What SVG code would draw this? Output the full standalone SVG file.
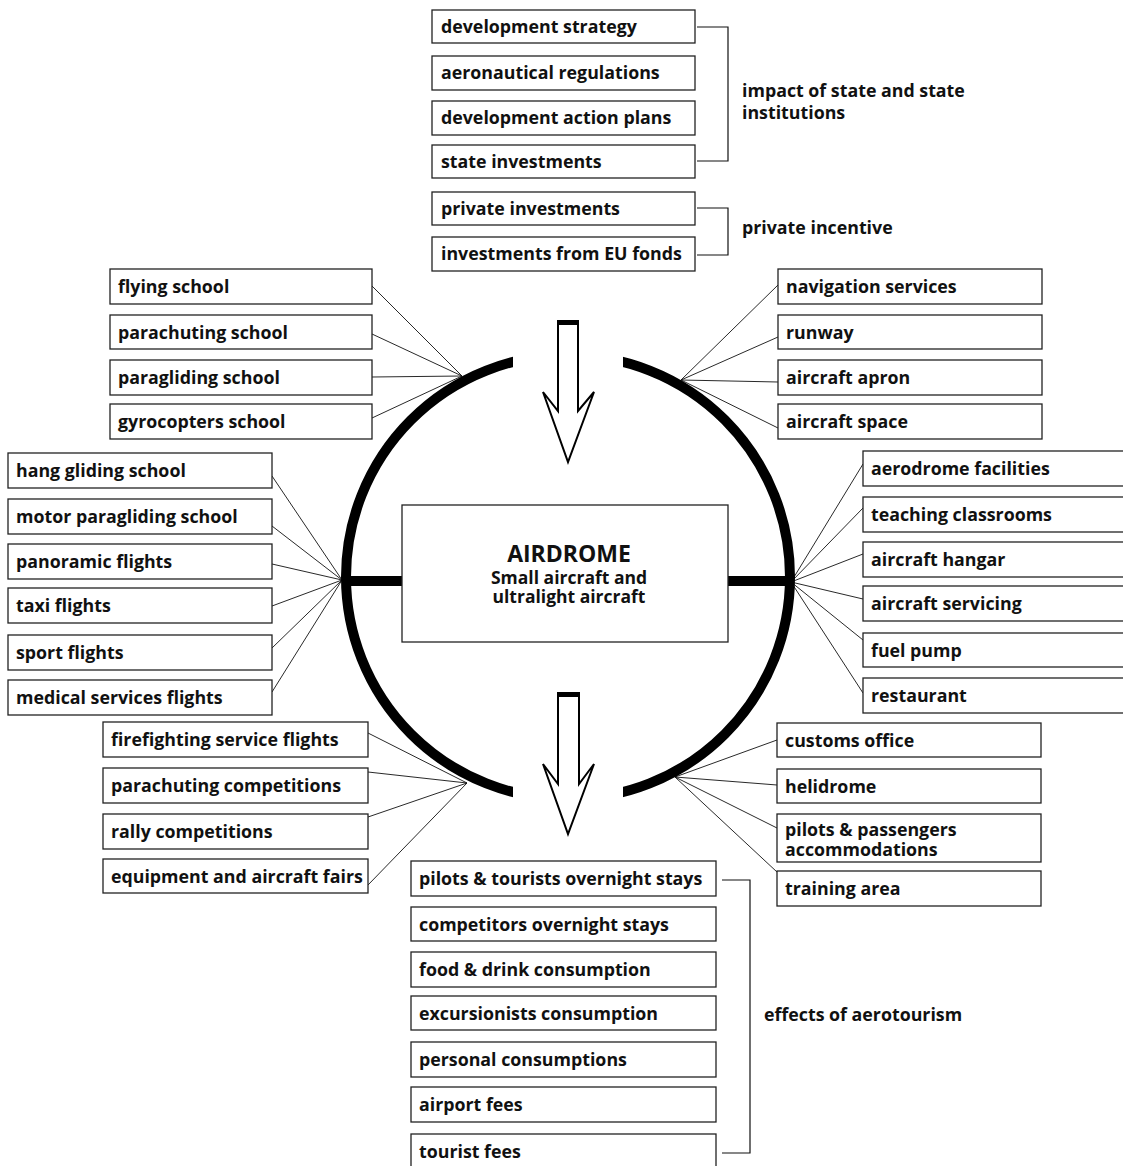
<svg xmlns="http://www.w3.org/2000/svg" width="1123" height="1166" viewBox="0 0 1123 1166">
<style>
.b{fill:#fff;stroke:#222;stroke-width:1.3}
.t{font-family:"Open Sans","Noto Sans","Liberation Sans",sans-serif;font-weight:700;font-size:17.8px;fill:#111}
.c{fill:none;stroke:#111;stroke-width:0.9}
.k{fill:none;stroke:#111;stroke-width:1.2}
.ar{fill:#fff;stroke:#000;stroke-width:2;stroke-linejoin:miter}
</style>
<defs>
<clipPath id="sides"><rect x="0" y="0" width="513" height="1166"/><rect x="623" y="0" width="500" height="1166"/></clipPath>
</defs>
<rect width="1123" height="1166" fill="#fff"/>

<g id="connectors">
<polyline class="k" points="697,27 728,27 728,161 697,161"/>
<polyline class="k" points="697,208 728,208 728,255 697,255"/>
<polyline class="k" points="722,880 750,880 750,1153 722,1153"/>
<line class="c" x1="372" y1="286" x2="462" y2="376"/>
<line class="c" x1="372" y1="334" x2="462" y2="376"/>
<line class="c" x1="372" y1="377" x2="462" y2="376"/>
<line class="c" x1="372" y1="418" x2="462" y2="376"/>
<line class="c" x1="272" y1="476" x2="342" y2="580"/>
<line class="c" x1="272" y1="526" x2="342" y2="580"/>
<line class="c" x1="272" y1="564" x2="342" y2="580"/>
<line class="c" x1="272" y1="606" x2="342" y2="580"/>
<line class="c" x1="272" y1="648" x2="342" y2="580"/>
<line class="c" x1="272" y1="692" x2="342" y2="580"/>
<line class="c" x1="778" y1="285" x2="681" y2="380"/>
<line class="c" x1="778" y1="337" x2="681" y2="380"/>
<line class="c" x1="778" y1="382" x2="681" y2="380"/>
<line class="c" x1="778" y1="428" x2="681" y2="380"/>
<line class="c" x1="863" y1="464" x2="791" y2="582"/>
<line class="c" x1="863" y1="508" x2="791" y2="582"/>
<line class="c" x1="863" y1="554" x2="791" y2="582"/>
<line class="c" x1="863" y1="599" x2="791" y2="582"/>
<line class="c" x1="863" y1="640" x2="791" y2="582"/>
<line class="c" x1="863" y1="693" x2="791" y2="582"/>
<line class="c" x1="368" y1="733" x2="467" y2="783"/>
<line class="c" x1="368" y1="772" x2="467" y2="783"/>
<line class="c" x1="368" y1="817" x2="467" y2="783"/>
<line class="c" x1="368" y1="885" x2="467" y2="783"/>
<line class="c" x1="777" y1="740" x2="675" y2="777"/>
<line class="c" x1="777" y1="785" x2="675" y2="777"/>
<line class="c" x1="777" y1="828" x2="675" y2="777"/>
<line class="c" x1="777" y1="872" x2="675" y2="777"/>
</g>

<g id="ring">
<circle cx="568" cy="577" r="222" fill="none" stroke="#000" stroke-width="10" clip-path="url(#sides)"/>
<line x1="346" y1="581" x2="402" y2="581" stroke="#000" stroke-width="10"/>
<line x1="728" y1="581" x2="790" y2="581" stroke="#000" stroke-width="10"/>
</g>

<g id="arrow-in">
<polygon class="ar" points="558,322 578,322 578,411 594,392 568,462 543,392 558,411"/>
<line x1="557" y1="322.5" x2="579" y2="322.5" stroke="#000" stroke-width="5"/>
</g>
<g id="arrow-out">
<polygon class="ar" points="558,694 579,694 579,784 594,764 568,834 543,764 558,784"/>
<line x1="557" y1="694.5" x2="580" y2="694.5" stroke="#000" stroke-width="5"/>
</g>

<g id="airdrome">
<rect class="b" x="402" y="505" width="326" height="137"/>
<text class="t" x="569" y="562" text-anchor="middle" style="font-size:23px">AIRDROME</text>
<text class="t" x="569" y="584" text-anchor="middle" style="font-size:17.5px">Small aircraft and</text>
<text class="t" x="569" y="603" text-anchor="middle" style="font-size:17.5px">ultralight aircraft</text>
</g>

<g id="top-group">
<g id="n-development-strategy"><rect class="b" x="432" y="10" width="263" height="33"/><text class="t" x="441" y="33">development strategy</text></g>
<g id="n-aeronautical-regulations"><rect class="b" x="432" y="56" width="263" height="34"/><text class="t" x="441" y="79">aeronautical regulations</text></g>
<g id="n-development-action-plans"><rect class="b" x="432" y="101" width="263" height="34"/><text class="t" x="441" y="124">development action plans</text></g>
<g id="n-state-investments"><rect class="b" x="432" y="145" width="263" height="33"/><text class="t" x="441" y="168">state investments</text></g>
<g id="n-private-investments"><rect class="b" x="432" y="192" width="263" height="33"/><text class="t" x="441" y="215">private investments</text></g>
<g id="n-eu-fonds"><rect class="b" x="432" y="237" width="263" height="34"/><text class="t" x="441" y="260">investments from EU fonds</text></g>
<text class="t" x="742" y="97">impact of state and state</text>
<text class="t" x="742" y="119">institutions</text>
<text class="t" x="742" y="234">private incentive</text>
</g>

<g id="left-upper">
<g id="n-flying-school"><rect class="b" x="110" y="269" width="262" height="35"/><text class="t" x="118" y="293">flying school</text></g>
<g id="n-parachuting-school"><rect class="b" x="110" y="315" width="262" height="34"/><text class="t" x="118" y="339">parachuting school</text></g>
<g id="n-paragliding-school"><rect class="b" x="110" y="360" width="262" height="35"/><text class="t" x="118" y="384">paragliding school</text></g>
<g id="n-gyrocopters-school"><rect class="b" x="110" y="404" width="262" height="35"/><text class="t" x="118" y="428">gyrocopters school</text></g>
</g>

<g id="left-middle">
<g id="n-hang-gliding"><rect class="b" x="8" y="453" width="264" height="35"/><text class="t" x="16" y="477">hang gliding school</text></g>
<g id="n-motor-paragliding"><rect class="b" x="8" y="499" width="264" height="35"/><text class="t" x="16" y="523">motor paragliding school</text></g>
<g id="n-panoramic"><rect class="b" x="8" y="544" width="264" height="35"/><text class="t" x="16" y="568">panoramic flights</text></g>
<g id="n-taxi"><rect class="b" x="8" y="588" width="264" height="35"/><text class="t" x="16" y="612">taxi flights</text></g>
<g id="n-sport"><rect class="b" x="8" y="635" width="264" height="35"/><text class="t" x="16" y="659">sport flights</text></g>
<g id="n-medical"><rect class="b" x="8" y="680" width="264" height="35"/><text class="t" x="16" y="704">medical services flights</text></g>
</g>

<g id="right-upper">
<g id="n-navigation"><rect class="b" x="778" y="269" width="264" height="35"/><text class="t" x="786" y="293">navigation services</text></g>
<g id="n-runway"><rect class="b" x="778" y="315" width="264" height="34"/><text class="t" x="786" y="339">runway</text></g>
<g id="n-apron"><rect class="b" x="778" y="360" width="264" height="35"/><text class="t" x="786" y="384">aircraft apron</text></g>
<g id="n-space"><rect class="b" x="778" y="404" width="264" height="35"/><text class="t" x="786" y="428">aircraft space</text></g>
</g>

<g id="right-middle">
<g id="n-aerodrome-facilities"><rect class="b" x="863" y="451" width="270" height="35"/><text class="t" x="871" y="475">aerodrome facilities</text></g>
<g id="n-teaching"><rect class="b" x="863" y="497" width="270" height="35"/><text class="t" x="871" y="521">teaching classrooms</text></g>
<g id="n-hangar"><rect class="b" x="863" y="542" width="270" height="35"/><text class="t" x="871" y="566">aircraft hangar</text></g>
<g id="n-servicing"><rect class="b" x="863" y="586" width="270" height="35"/><text class="t" x="871" y="610">aircraft servicing</text></g>
<g id="n-fuel"><rect class="b" x="863" y="633" width="270" height="34"/><text class="t" x="871" y="657">fuel pump</text></g>
<g id="n-restaurant"><rect class="b" x="863" y="678" width="270" height="35"/><text class="t" x="871" y="702">restaurant</text></g>
</g>

<g id="left-lower">
<g id="n-firefighting"><rect class="b" x="103" y="722" width="265" height="35"/><text class="t" x="111" y="746">firefighting service flights</text></g>
<g id="n-parachuting-comp"><rect class="b" x="103" y="768" width="265" height="35"/><text class="t" x="111" y="792">parachuting competitions</text></g>
<g id="n-rally"><rect class="b" x="103" y="814" width="265" height="35"/><text class="t" x="111" y="838">rally competitions</text></g>
<g id="n-fairs"><rect class="b" x="103" y="859" width="265" height="34"/><text class="t" x="111" y="883">equipment and aircraft fairs</text></g>
</g>

<g id="right-lower">
<g id="n-customs"><rect class="b" x="777" y="723" width="264" height="34"/><text class="t" x="785" y="747">customs office</text></g>
<g id="n-helidrome"><rect class="b" x="777" y="769" width="264" height="34"/><text class="t" x="785" y="793">helidrome</text></g>
<g id="n-accommodations"><rect class="b" x="777" y="814" width="264" height="48"/><text class="t" x="785" y="836">pilots &amp; passengers</text><text class="t" x="785" y="856">accommodations</text></g>
<g id="n-training"><rect class="b" x="777" y="871" width="264" height="35"/><text class="t" x="785" y="895">training area</text></g>
</g>

<g id="bottom-group">
<g id="n-pilots-tourists"><rect class="b" x="411" y="861" width="305" height="35"/><text class="t" x="419" y="885">pilots &amp; tourists overnight stays</text></g>
<g id="n-competitors"><rect class="b" x="411" y="907" width="305" height="34"/><text class="t" x="419" y="931">competitors overnight stays</text></g>
<g id="n-food"><rect class="b" x="411" y="952" width="305" height="35"/><text class="t" x="419" y="976">food &amp; drink consumption</text></g>
<g id="n-excursionists"><rect class="b" x="411" y="996" width="305" height="34"/><text class="t" x="419" y="1020">excursionists consumption</text></g>
<g id="n-personal"><rect class="b" x="411" y="1042" width="305" height="35"/><text class="t" x="419" y="1066">personal consumptions</text></g>
<g id="n-airport-fees"><rect class="b" x="411" y="1087" width="305" height="35"/><text class="t" x="419" y="1111">airport fees</text></g>
<g id="n-tourist-fees"><rect class="b" x="411" y="1134" width="305" height="40"/><text class="t" x="419" y="1158">tourist fees</text></g>
<text class="t" x="764" y="1021">effects of aerotourism</text>
</g>
</svg>
